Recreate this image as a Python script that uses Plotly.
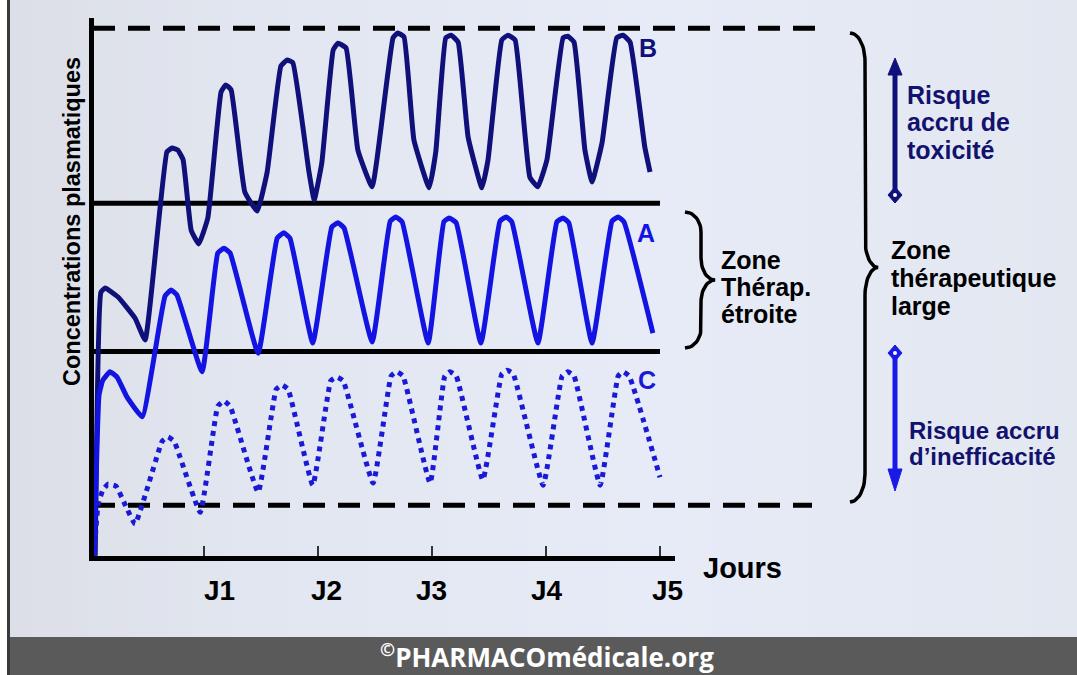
import math
import plotly.graph_objects as go

# ---------------- data (hours after first dose, arbitrary concentration units) ----------------
hours_B = [1.1, 2.3, 3.2, 5.9, 9.5, 11.6, 16.2, 17.3, 18.5, 19.6, 21.3, 22.9, 24.8, 27.6, 28.6, 29.7,
           32.6, 35.2, 37.3, 40.2, 41.5, 42.7, 46.1, 47.2, 48.8, 51.2, 52.2, 53.9, 56.4, 59.4, 63.8,
           64.8, 66.1, 68.2, 71.4, 72.8, 74.9, 76.0, 77.5, 79.6, 82.5, 83.8, 86.7, 88.0, 89.5, 92.6,
           94.3, 96.2, 99.6, 100.6, 101.9, 104.2, 105.7, 107.8, 110.9, 112.2, 113.7, 116.8, 117.9]
conc_B = [0.5, 50.2, 51.0, 49.3, 45.3, 41.2, 76.7, 77.4, 77.0, 75.2, 61.9, 59.3, 64.2, 88.0, 89.3, 88.4,
          69.1, 65.5, 72.9, 92.9, 94.0, 93.5, 72.9, 67.6, 74.6, 95.9, 97.2, 96.3, 77.0, 70.1, 98.2,
          99.1, 98.4, 78.9, 69.9, 76.7, 98.2, 98.7, 97.4, 79.5, 69.9, 75.2, 97.8, 98.7, 97.8, 71.9,
          70.1, 75.2, 98.2, 98.5, 97.4, 77.0, 71.0, 78.4, 98.2, 98.7, 97.4, 77.6, 72.9]

hours_A = [0.9, 1.9, 2.7, 4.2, 5.7, 7.8, 11.0, 15.8, 17.1, 18.3, 23.6, 26.9, 28.2, 29.5, 35.4, 39.4,
           40.8, 42.1, 46.9, 50.9, 52.2, 53.5, 59.4, 63.2, 64.4, 65.7, 71.2, 74.5, 75.6, 77.1, 82.3,
           86.3, 87.6, 88.8, 94.3, 98.3, 99.6, 100.8, 105.7, 109.9, 111.2, 112.4, 118.5]
conc_A = [0.5, 30.8, 33.6, 35.2, 34.2, 30.4, 26.7, 49.5, 50.6, 49.7, 35.2, 57.6, 58.5, 57.6, 38.7, 60.4,
          61.4, 60.4, 40.6, 62.5, 63.3, 62.3, 40.8, 63.6, 64.4, 63.5, 40.6, 63.5, 64.2, 63.3, 40.6,
          63.6, 64.4, 63.5, 40.6, 63.5, 64.2, 63.3, 40.6, 63.6, 64.4, 63.5, 42.5]

hours_C = [0.85, 1.7, 2.7, 3.8, 5.5, 7.4, 9.5, 15.2, 16.4, 17.7, 23.2, 26.9, 28.2, 29.5, 35.4, 39.2,
           40.4, 41.7, 46.9, 50.7, 52.0, 53.3, 59.6, 63.4, 64.6, 65.9, 71.6, 74.7, 75.8, 77.1, 82.7,
           86.7, 87.8, 89.1, 95.4, 99.4, 100.6, 101.9, 107.4, 111.2, 112.2, 113.5, 120.0]
conc_C = [0.5, 10.1, 12.9, 14.0, 13.6, 10.1, 6.5, 22.1, 22.9, 22.1, 8.7, 28.7, 29.7, 28.7, 12.5, 31.9,
          32.7, 31.9, 13.8, 33.5, 34.2, 33.5, 14.2, 34.4, 35.2, 34.4, 14.2, 34.4, 35.2, 34.4, 14.8,
          34.8, 35.5, 34.8, 13.8, 34.4, 35.2, 34.4, 13.8, 34.4, 35.2, 34.4, 15.3]

tox_limit = 100      # upper limit of the wide therapeutic zone
narrow_high = 67     # upper limit of the narrow therapeutic zone
narrow_low = 39      # lower limit of the narrow therapeutic zone
wide_low = 10        # lower limit of the wide therapeutic zone

tick_hours = [24, 48, 72, 96, 120]
tick_labels = ["J1", "J2", "J3", "J4", "J5"]

# ---------------- styling ----------------
W, H = 1077, 675
FONT = "Liberation Sans, Arial, sans-serif"
NAVY = "#10107a"
BLUE = "#1414e2"
BLUE_C = "#1a1ad6"
TXT_NAVY = "#12126e"

fig = go.Figure()

# background gradient (vertical strips)
stops = [(10, (220, 223, 231)), (250, (226, 230, 240)), (650, (230, 235, 247)), (1077, (227, 231, 240))]

def bg_color(px):
    for (xa, ca), (xb, cb) in zip(stops[:-1], stops[1:]):
        if xa <= px <= xb:
            f = (px - xa) / (xb - xa)
            return "rgb(%d,%d,%d)" % tuple(round(a + (b - a) * f) for a, b in zip(ca, cb))
    return "rgb(%d,%d,%d)" % stops[-1][1]

step = 20
x = 10
while x < W:
    x2 = min(W, x + step)
    fig.add_shape(type="rect", xref="paper", yref="paper", x0=x / W, x1=x2 / W + 0.001, y0=0, y1=1,
                  line=dict(width=0), fillcolor=bg_color((x + x2) / 2), layer="below")
    x = x2

# left border line
fig.add_shape(type="rect", xref="paper", yref="paper", x0=7 / W, x1=10 / W, y0=0, y1=1,
              line=dict(width=0), fillcolor="#3a3a3a", layer="below")
# footer bar
fig.add_shape(type="rect", xref="paper", yref="paper", x0=10 / W, x1=1, y0=0, y1=(H - 637) / H,
              line=dict(width=0), fillcolor="#5a5a5a", layer="below")

# threshold lines
for val, dash, x_end in [(tox_limit, "22px,13px", 818), (narrow_high, "solid", 660),
                         (narrow_low, "solid", 660), (wide_low, "22px,13px", 812)]:
    fig.add_shape(type="line", xref="paper", yref="y", x0=93 / W, x1=x_end / W, y0=val, y1=val,
                  line=dict(color="black", width=5, dash=dash), layer="below")

# concentration curves
fig.add_trace(go.Scatter(x=hours_B, y=conc_B, mode="lines",
                         line=dict(color=NAVY, width=5, shape="spline", smoothing=0.35),
                         hoverinfo="skip", xaxis="x", yaxis="y"))
fig.add_trace(go.Scatter(x=hours_A, y=conc_A, mode="lines",
                         line=dict(color=BLUE, width=5, shape="spline", smoothing=0.35),
                         hoverinfo="skip", xaxis="x", yaxis="y"))
fig.add_trace(go.Scatter(x=hours_C, y=conc_C, mode="lines",
                         line=dict(color=BLUE_C, width=5, dash="dot", shape="spline", smoothing=0.35),
                         hoverinfo="skip", xaxis="x", yaxis="y"))

# ---------------- decorations on a full-figure pixel overlay ----------------
def brace(x0, xv, xt, ytop, ybot, r1, r2, n=14):
    ymid = (ytop + ybot) / 2
    pts = []
    for i in range(n + 1):
        t = i / n * math.pi / 2
        pts.append((x0 + (xv - x0) * math.sin(t), ytop + r1 * (1 - math.cos(t))))
    for i in range(n + 1):
        t = i / n * math.pi / 2
        pts.append((xv + (xt - xv) * (1 - math.cos(t)), ymid - r2 + r2 * math.sin(t)))
    lower = [(px, 2 * ymid - py) for (px, py) in reversed(pts)]
    allp = pts + lower[1:]
    return [p[0] for p in allp], [p[1] for p in allp]

for args in [(685, 701, 715, 212, 348, 20, 22), (850, 865, 878, 33, 502, 28, 28)]:
    bx, by = brace(*args)
    fig.add_trace(go.Scatter(x=bx, y=by, mode="lines", line=dict(color="black", width=3.5),
                             hoverinfo="skip", xaxis="x2", yaxis="y2"))

def double_arrow(xc, y_top, y_bot, color, head_top):
    fig.add_trace(go.Scatter(x=[xc, xc], y=[y_top + 12, y_bot - 12], mode="lines",
                             line=dict(color=color, width=5), hoverinfo="skip", xaxis="x2", yaxis="y2"))
    if head_top:
        tri = ([xc - 7, xc + 7, xc, xc - 7], [y_top + 17, y_top + 17, y_top, y_top + 17])
        dia_c = y_bot - 8
    else:
        tri = ([xc - 7, xc + 7, xc, xc - 7], [y_bot - 22, y_bot - 22, y_bot, y_bot - 22])
        dia_c = y_top + 8
    fig.add_trace(go.Scatter(x=tri[0], y=tri[1], mode="lines", fill="toself", fillcolor=color,
                             line=dict(color=color, width=1), hoverinfo="skip", xaxis="x2", yaxis="y2"))
    fig.add_trace(go.Scatter(x=[xc, xc + 7, xc, xc - 7, xc], y=[dia_c - 8, dia_c, dia_c + 8, dia_c, dia_c - 8],
                             mode="lines", fill="toself", fillcolor=color, line=dict(color=color, width=1),
                             hoverinfo="skip", xaxis="x2", yaxis="y2"))
    fig.add_trace(go.Scatter(x=[xc], y=[dia_c], mode="markers", marker=dict(color="white", size=4),
                             hoverinfo="skip", xaxis="x2", yaxis="y2"))

double_arrow(895, 58, 203, NAVY, True)
double_arrow(895, 345, 491, "#1a1ae8", False)

# ---------------- texts ----------------
ann = []

def txt(s, x, y, size, color="black", xanchor="left", xref="x2", angle=0, xshift=0):
    ann.append(dict(text="<b>%s</b>" % s, x=x, y=y, xref=xref, yref="y2", xanchor=xanchor,
                    yanchor="middle", showarrow=False, textangle=angle, xshift=xshift,
                    font=dict(family=FONT, size=size, color=color)))

for line, yy in zip(["Risque", "accru de", "toxicité"], [95, 122, 150]):
    txt(line, 905, yy, 25, TXT_NAVY)
for line, yy in zip(["Zone", "thérapeutique", "large"], [250, 278, 306]):
    txt(line, 889, yy, 25)
for line, yy in zip(["Zone", "Thérap.", "étroite"], [260, 287, 314]):
    txt(line, 719, yy, 25)
for line, yy in zip(["Risque accru", "d’inefficacité"], [430, 456]):
    txt(line, 907, yy, 24, TXT_NAVY)

txt("B", 648, 48, 25, NAVY, xanchor="center")
txt("A", 646, 233, 25, BLUE, xanchor="center")
txt("C", 647, 380, 25, BLUE_C, xanchor="center")

txt("Jours", 701, 568, 29)
for lab, hx, sh in zip(tick_labels, tick_hours, [15, 8, 0, 1, 8]):
    txt(lab, hx, 590, 28, xanchor="center", xref="x", xshift=sh)

txt("Concentrations plasmatiques", 72, 222, 23.5, xanchor="center", angle=-90)

ann.append(dict(text="<b><sup>©</sup>PHARMACOmédicale.org</b>", x=547, y=656, xref="x2", yref="y2",
                xanchor="center", yanchor="middle", showarrow=False,
                font=dict(family="Open Sans, sans-serif", size=26, color="white")))

fig.update_layout(
    width=W, height=H, margin=dict(l=0, r=0, t=0, b=0),
    paper_bgcolor="white", plot_bgcolor="rgba(0,0,0,0)", showlegend=False,
    annotations=ann,
    xaxis=dict(domain=[94 / W, 675 / W], range=[0.842, 123.16], showline=True, linewidth=5,
               linecolor="black", ticks="inside", ticklen=10, tickwidth=1.5, tickcolor="#333333",
               tickvals=tick_hours, showticklabels=False, showgrid=False, zeroline=False, anchor="y"),
    yaxis=dict(domain=[(H - 556) / H, (H - 18) / H], range=[0.434, 101.94], showline=True, linewidth=5,
               linecolor="black", ticks="", showticklabels=False, showgrid=False, zeroline=False, anchor="x"),
    xaxis2=dict(domain=[0, 1], range=[0, W], visible=False, anchor="y2"),
    yaxis2=dict(domain=[0, 1], range=[H, 0], visible=False, anchor="x2"),
)

fig.write_html("out.html", config={"staticPlot": True},
               post_script="document.body.style.margin='0';document.body.style.padding='0';"
                           "document.body.style.overflow='hidden';")
